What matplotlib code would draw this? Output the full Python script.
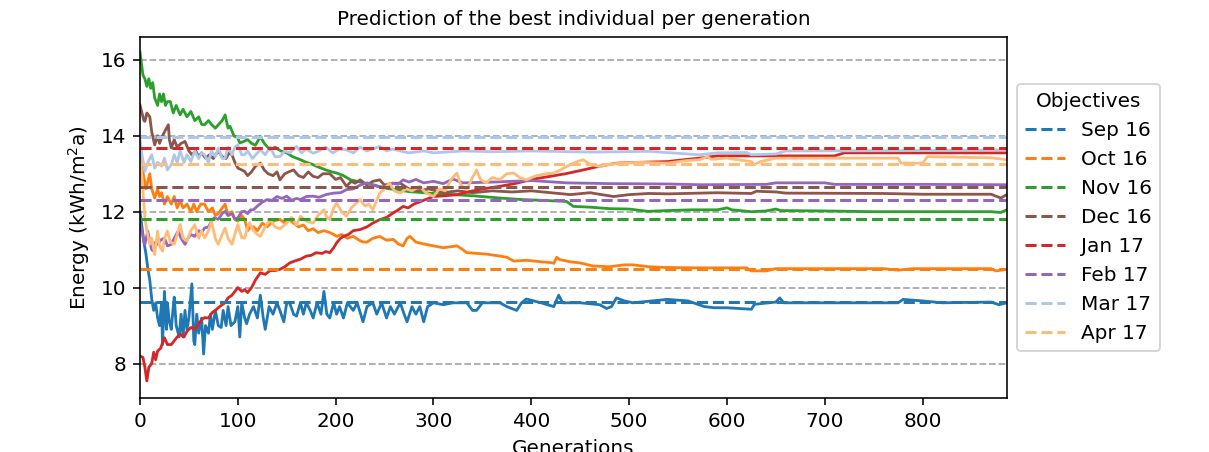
import matplotlib
matplotlib.use("Agg")
import matplotlib.pyplot as plt

# best-individual prediction per generation, (generation, kWh/m2a)
sep_16 = [(0,12.0),(2,11.6),(4,11.2),(6,10.9),(8,10.5),(10,10.2),(12,9.7),(14,9.4),(16,9.6),(18,9.2),(20,9.0),
          (22,9.6),(23,8.5),(25,9.9),(27,8.9),(28,9.6),(30,9.1),(32,8.9),(34,9.5),(35,9.75),(37,9.0),(40,8.7),
          (42,9.3),(44,8.7),(46,9.4),(48,8.9),(50,9.2),(53,10.1),(55,8.6),(56,8.5),(58,9.3),(60,8.8),(63,9.2),
          (65,8.25),(67,9.0),(70,8.8),(72,9.3),(74,8.9),(77,9.4),(80,9.0),(83,8.95),(85,9.4),(88,9.0),(90,9.5),
          (93,9.0),(97,9.1),(100,9.5),(102,8.7),(104,9.6),(107,9.2),(109,9.05),(112,9.3),(116,9.5),(120,9.2),
          (123,9.8),(126,9.2),(128,8.9),(132,9.5),(136,9.3),(140,9.6),(143,9.4),(147,9.1),(150,9.6),(153,9.6),
          (157,9.3),(160,9.25),(164,9.6),(167,9.3),(170,9.6),(174,9.4),(177,9.2),(181,9.6),(185,9.3),(188,9.9),
          (191,9.3),(194,9.2),(198,9.6),(201,9.3),(204,9.5),(208,9.2),(212,9.6),(218,9.4),(222,9.6),(228,9.1),
          (232,9.5),(238,9.6),(242,9.3),(247,9.6),(252,9.2),(256,9.5),(260,9.3),(266,9.6),(270,9.3),(273,9.1),
          (278,9.5),(282,9.3),(286,9.5),(290,9.1),(294,9.5),(300,9.6),(310,9.55),(320,9.6),(334,9.6),(340,9.4),
          (344,9.4),(350,9.6),(368,9.6),(375,9.5),(385,9.4),(390,9.6),(395,9.7),(410,9.6),(423,9.5),(428,9.8),
          (432,9.6),(450,9.6),(470,9.55),(477,9.45),(482,9.5),(487,9.73),(495,9.65),(504,9.6),(539,9.69),
          (560,9.65),(577,9.5),(587,9.47),(600,9.47),(625,9.43),(628,9.56),(650,9.62),(654,9.73),(658,9.6),
          (700,9.6),(775,9.6),(780,9.69),(800,9.65),(820,9.6),(870,9.62),(878,9.55),(886,9.6)]
oct_16 = [(0,13.6),(2,13.2),(4,12.9),(6,12.6),(8,12.8),(10,13.0),(12,12.6),(15,12.36),(18,12.6),(20,12.4),
          (22,12.5),(25,12.2),(28,12.4),(30,12.3),(32,12.2),(35,12.4),(38,12.1),(41,12.3),(44,12.1),(48,12.2),
          (52,12.0),(55,12.2),(58,12.0),(62,12.2),(66,12.2),(70,12.0),(74,12.1),(77,11.9),(80,11.95),(84,12.1),
          (87,12.2),(90,11.9),(94,12.0),(97,11.8),(100,11.75),(104,11.9),(107,11.8),(110,11.5),(113,11.6),
          (116,11.6),(120,11.5),(125,11.7),(130,11.6),(136,11.75),(143,11.8),(148,11.7),(152,11.8),(157,11.7),
          (162,11.6),(167,11.65),(172,11.5),(177,11.55),(182,11.45),(188,11.5),(194,11.45),(198,11.4),
          (201,11.35),(206,11.4),(212,11.3),(218,11.35),(224,11.25),(228,11.2),(232,11.2),(238,11.3),
          (245,11.35),(252,11.25),(259,11.27),(264,11.15),(269,11.1),(273,11.3),(276,11.35),(282,11.2),
          (290,11.15),(300,11.1),(310,11.05),(324,11.1),(330,11.0),(334,10.92),(345,10.9),(355,10.88),
          (368,10.83),(375,10.8),(382,10.7),(395,10.72),(410,10.68),(420,10.66),(423,10.64),(426,10.8),
          (429,10.74),(440,10.68),(450,10.65),(463,10.57),(480,10.55),(495,10.6),(504,10.6),(520,10.55),
          (539,10.53),(573,10.52),(620,10.52),(625,10.44),(640,10.44),(650,10.5),(760,10.5),(775,10.46),
          (790,10.5),(870,10.5),(875,10.44),(886,10.48)]
nov_16 = [(0,16.2),(1,16.0),(3,15.6),(5,15.5),(7,15.3),(9,15.5),(11,15.25),(13,15.4),(15,15.0),(18,14.8),
          (20,15.1),(22,14.9),(24,15.1),(26,14.8),(28,14.9),(31,14.9),(34,14.6),(37,14.8),(41,14.55),(44,14.7),
          (48,14.5),(52,14.64),(56,14.4),(60,14.5),(63,14.3),(66,14.29),(70,14.4),(73,14.3),(77,14.2),(80,14.29),
          (84,14.4),(87,14.55),(90,14.2),(92,14.25),(96,14.0),(100,13.94),(102,13.81),(106,13.85),(110,13.9),
          (114,13.8),(118,13.75),(123,13.98),(127,13.8),(133,13.63),(138,13.7),(144,13.6),(150,13.55),
          (156,13.45),(164,13.37),(170,13.3),(176,13.25),(181,13.19),(190,13.1),(196,13.05),(201,13.02),
          (208,12.95),(215,12.84),(222,12.8),(228,12.76),(240,12.7),(250,12.62),(262,12.58),(275,12.53),
          (290,12.5),(300,12.48),(320,12.45),(340,12.42),(368,12.36),(390,12.32),(410,12.3),(436,12.27),
          (443,12.14),(460,12.12),(480,12.08),(500,12.07),(519,12.01),(540,12.03),(563,12.05),(590,12.05),
          (600,12.1),(605,12.05),(625,12.0),(640,12.02),(650,12.07),(655,12.03),(700,12.02),(750,12.0),
          (800,12.0),(870,12.0),(880,11.98),(886,12.05)]
dec_16 = [(0,14.81),(2,14.6),(4,14.4),(5,14.38),(7,14.6),(10,14.5),(12,14.1),(15,13.76),(18,14.0),(20,13.8),
          (22,13.94),(25,14.1),(29,14.29),(30,13.9),(32,13.68),(35,13.9),(38,13.7),(42,13.8),(46,13.85),
          (50,13.6),(53,13.5),(57,13.6),(60,13.45),(63,13.55),(67,13.41),(71,13.5),(75,13.4),(80,13.6),
          (84,13.45),(88,13.4),(91,13.55),(94,13.5),(97,13.3),(100,13.15),(104,13.1),(107,13.06),(110,12.95),
          (114,13.05),(118,13.2),(123,13.28),(127,13.1),(131,13.0),(136,12.95),(140,13.05),(143,12.84),
          (148,13.0),(152,13.05),(157,13.1),(162,12.95),(167,12.9),(172,13.05),(177,12.93),(182,12.9),
          (187,13.0),(194,13.0),(200,12.85),(205,12.9),(211,12.67),(216,12.8),(220,12.75),(225,12.84),
          (232,12.7),(238,12.8),(245,12.84),(250,12.7),(258,12.75),(266,12.75),(275,12.6),(285,12.55),
          (295,12.6),(310,12.5),(325,12.55),(340,12.5),(360,12.55),(380,12.52),(400,12.55),(420,12.5),
          (440,12.45),(460,12.5),(484,12.4),(500,12.45),(520,12.48),(540,12.47),(573,12.49),(590,12.5),
          (625,12.48),(630,12.54),(650,12.52),(660,12.49),(760,12.48),(800,12.46),(870,12.46),(880,12.36),
          (886,12.45)]
jan_17 = [(0,8.2),(3,8.16),(5,7.9),(7,7.54),(9,7.9),(12,8.0),(14,8.3),(16,8.1),(18,8.33),(21,8.4),(25,8.68),
          (28,8.5),(32,8.5),(35,8.6),(38,8.7),(41,8.77),(45,8.7),(48,8.85),(52,8.95),(56,8.9),(60,9.05),
          (63,9.15),(66,9.21),(70,9.2),(74,9.35),(77,9.4),(80,9.47),(84,9.55),(87,9.6),(90,9.73),(94,9.8),
          (97,9.9),(100,10.0),(104,9.9),(107,9.95),(110,9.87),(114,10.0),(118,10.2),(123,10.39),(128,10.35),
          (133,10.45),(138,10.45),(143,10.48),(148,10.55),(153,10.65),(158,10.7),(164,10.75),(170,10.83),
          (175,10.85),(180,10.92),(186,10.9),(190,10.95),(194,10.92),(198,11.05),(201,11.18),(205,11.3),
          (208,11.35),(213,11.4),(218,11.5),(225,11.53),(232,11.6),(238,11.7),(245,11.79),(252,11.85),
          (259,11.97),(264,12.05),(269,12.14),(274,12.1),(280,12.2),(290,12.3),(300,12.4),(312,12.42),
          (324,12.45),(335,12.52),(350,12.6),(368,12.67),(385,12.75),(400,12.85),(419,12.93),(435,13.0),
          (453,13.1),(470,13.2),(488,13.28),(510,13.3),(539,13.32),(560,13.38),(572,13.41),(590,13.47),
          (640,13.47),(710,13.47),(720,13.55),(800,13.55),(886,13.55)]
feb_17 = [(0,11.7),(2,11.5),(4,11.2),(5,11.14),(8,11.49),(10,11.2),(12,11.0),(14,10.96),(16,11.2),(18,11.14),
          (21,11.25),(25,11.31),(28,11.1),(32,11.14),(35,11.3),(39,11.49),(42,11.3),(46,11.14),(49,11.3),
          (52,11.4),(56,11.35),(60,11.5),(63,11.45),(66,11.57),(70,11.6),(73,11.75),(76,11.84),(80,11.8),
          (84,11.95),(87,12.01),(90,11.9),(94,11.95),(97,11.8),(100,11.84),(104,12.0),(107,12.01),(110,11.95),
          (113,12.05),(116,12.05),(120,12.15),(125,12.25),(130,12.32),(135,12.3),(140,12.4),(145,12.35),
          (150,12.41),(155,12.3),(160,12.35),(164,12.32),(170,12.4),(177,12.41),(183,12.38),(190,12.45),
          (198,12.49),(205,12.5),(211,12.58),(218,12.6),(225,12.7),(232,12.76),(238,12.7),(245,12.65),
          (252,12.67),(258,12.75),(264,12.72),(269,12.84),(275,12.78),(282,12.85),(290,12.76),(300,12.8),
          (310,12.74),(320,12.86),(330,12.76),(360,12.78),(400,12.82),(436,12.76),(480,12.74),(540,12.73),
          (573,12.71),(640,12.72),(650,12.76),(700,12.76),(710,12.72),(800,12.72),(886,12.71)]
mar_17 = [(0,13.94),(2,13.5),(5,13.06),(8,13.3),(12,13.5),(15,13.15),(18,13.3),(22,13.2),(25,13.41),(28,13.1),
          (32,13.24),(35,13.5),(38,13.3),(41,13.6),(45,13.3),(48,13.5),(52,13.32),(56,13.6),(60,13.4),
          (63,13.55),(66,13.5),(70,13.3),(73,13.6),(77,13.45),(80,13.68),(84,13.4),(87,13.41),(90,13.7),
          (94,13.5),(97,13.7),(100,13.76),(104,13.5),(107,13.5),(110,13.6),(115,13.4),(120,13.55),(123,13.63),
          (128,13.5),(133,13.7),(138,13.45),(143,13.45),(148,13.6),(153,13.55),(160,13.72),(165,13.55),
          (170,13.65),(177,13.54),(183,13.6),(190,13.7),(197,13.55),(204,13.65),(211,13.63),(218,13.55),
          (225,13.7),(232,13.6),(238,13.65),(245,13.72),(252,13.6),(258,13.65),(266,13.6),(275,13.55),
          (290,13.6),(300,13.55),(330,13.6),(360,13.58),(400,13.6),(460,13.57),(520,13.59),(560,13.52),
          (572,13.5),(590,13.55),(620,13.56),(625,13.5),(650,13.52),(660,13.6),(800,13.61),(886,13.63)]
apr_17 = [(0,13.4),(2,12.9),(4,12.2),(5,11.84),(7,11.5),(10,11.14),(12,11.3),(15,10.87),(18,11.49),(20,11.1),
          (23,10.96),(25,11.3),(28,11.49),(31,11.2),(35,11.14),(38,11.4),(41,11.66),(44,11.3),(48,11.23),
          (52,11.5),(56,11.66),(60,11.3),(63,11.5),(66,11.31),(70,11.5),(73,11.75),(77,11.3),(80,11.14),
          (84,11.4),(87,11.57),(90,11.3),(94,11.14),(97,11.4),(100,11.66),(104,11.31),(107,11.31),(110,11.6),
          (112,11.71),(116,11.5),(120,11.4),(123,11.35),(128,11.6),(133,11.79),(138,11.6),(143,11.55),
          (150,11.7),(155,11.85),(160,11.65),(164,11.88),(170,11.75),(177,11.7),(182,11.9),(188,12.05),
          (191,11.85),(194,11.79),(198,12.1),(201,12.23),(206,12.0),(211,11.88),(216,12.1),(220,12.2),
          (225,12.32),(230,12.15),(234,12.2),(238,12.05),(242,12.3),(245,12.49),(250,12.6),(255,12.76),
          (260,12.55),(266,12.49),(272,12.6),(278,12.55),(286,12.67),(292,12.5),(296,12.45),(300,12.4),
          (306,12.6),(312,12.55),(318,12.85),(324,13.02),(328,12.7),(334,12.58),(338,12.8),(344,13.1),
          (348,12.85),(354,12.76),(360,12.9),(368,12.85),(375,13.0),(382,13.02),(388,12.9),(395,12.84),
          (405,12.95),(415,13.0),(423,13.02),(430,13.1),(436,13.19),(445,13.3),(453,13.37),(460,13.25),
          (470,13.19),(480,13.25),(491,13.28),(510,13.3),(539,13.28),(560,13.35),(572,13.37),(580,13.45),
          (584,13.38),(600,13.41),(625,13.32),(628,13.24),(634,13.32),(650,13.41),(775,13.41),(778,13.28),
          (800,13.28),(805,13.45),(870,13.42),(886,13.37)]

months = ["Sep 16", "Oct 16", "Nov 16", "Dec 16", "Jan 17", "Feb 17", "Mar 17", "Apr 17"]
objectives = [9.62, 10.50, 11.80, 12.65, 13.67, 12.30, 13.97, 13.26]
series = [sep_16, oct_16, nov_16, dec_16, jan_17, feb_17, mar_17, apr_17]
colors = ["#1f77b4", "#ff7f0e", "#2ca02c", "#8c564b", "#d62728", "#9467bd", "#aec7e8", "#ffbb78"]

DPI = 144
fig = plt.figure(figsize=(1209/DPI, 452/DPI), dpi=DPI)
ax = fig.add_axes([0.1158, 0.1201, 0.7169, 0.7987])

for pts, c in zip(series, colors):
    gens, vals = zip(*pts)
    ax.plot(gens, vals, color=c, lw=1.4)

for m, obj, c in zip(months, objectives, colors):
    ax.axhline(obj, color=c, ls="--", lw=1.5, label=m)

ax.grid(axis="y", linestyle="--", linewidth=0.9, color="#aaaaaa")
ax.set_axisbelow(True)

ax.set_xlim(0, 886)
ax.set_ylim(7.1, 16.61)
ax.set_yticks([8, 10, 12, 14, 16])
ax.set_title("Prediction of the best individual per generation", fontsize=10)
ax.set_xlabel("Generations")
ax.set_ylabel("Energy (kWh/m$^2$a)")
ax.legend(title="Objectives", loc="center left", bbox_to_anchor=(1.0, 0.5))

fig.savefig("out.png", dpi=DPI)
